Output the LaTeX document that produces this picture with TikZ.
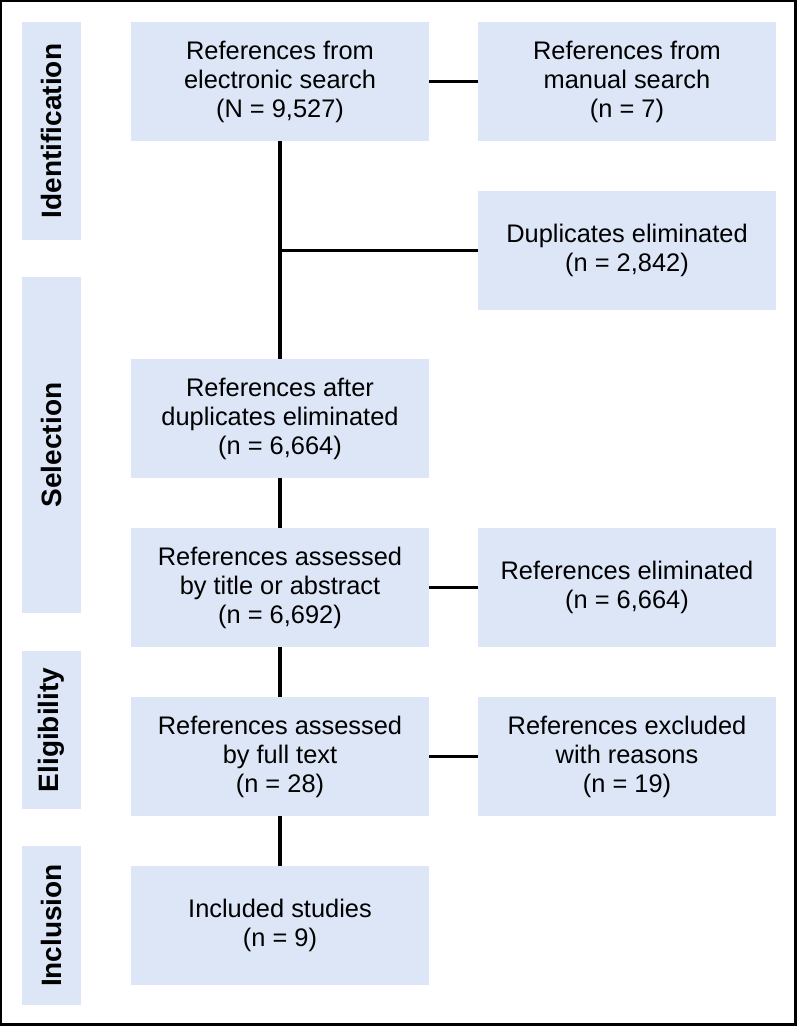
\documentclass[tikz,border=0pt]{standalone}
\usepackage{fontspec}
\setmainfont{Liberation Sans}
\usepackage{tikz}
\usetikzlibrary{positioning}
\definecolor{boxblue}{RGB}{220,230,247}
\tikzset{
  refbox/.style={fill=boxblue, minimum width=149pt, minimum height=59.5pt, inner sep=0pt, align=center, font=\fontsize{12.7}{14.5}\selectfont},
  phasebox/.style={fill=boxblue, minimum height=29.5pt, inner sep=0pt, rotate=90, font=\fontsize{14}{16}\selectfont\bfseries},
  link/.style={line width=1.6pt}
}

\begin{document}
\begin{tikzpicture}[x=0.5pt, y=-0.5pt]
\useasboundingbox (0,0) rectangle (798,1027);
\draw[line width=1.25pt] (1,1) rectangle (795.5,1024.5);
\node[phasebox, minimum width=109pt] (ident) at (51.5,131) {Identification};
\node[phasebox, minimum width=168pt] (select) at (51.5,445) {Selection};
\node[phasebox, minimum width=79pt] (elig) at (51.5,730) {Eligibility};
\node[phasebox, minimum width=79.5pt] (inclu) at (51.5,925.5) {Inclusion};
\node[refbox] (elec) at (280,81.5) {References from\\electronic search\\(N = 9,527)};
\node[refbox] (manual) at (627,81.5) {References from\\manual search\\(n = 7)};
\node[refbox] (dup) at (627,250.5) {Duplicates eliminated\\(n = 2,842)};
\node[refbox] (after) at (280,418.5) {References after\\duplicates eliminated\\(n = 6,664)};
\node[refbox] (title) at (280,587.5) {References assessed\\by title or abstract\\(n = 6,692)};
\node[refbox] (elim) at (627,587.5) {References eliminated\\(n = 6,664)};
\node[refbox] (full) at (280,756.5) {References assessed\\by full text\\(n = 28)};
\node[refbox] (excl) at (627,756.5) {References excluded\\with reasons\\(n = 19)};
\node[refbox] (incl) at (280,925.5) {Included studies\\(n = 9)};
\coordinate (branch) at (elec |- dup);
\draw[link] (elec) -- (manual);
\draw[link] (elec) -- (after);
\draw[link] (branch) -- (dup);
\draw[link] (after) -- (title);
\draw[link] (title) -- (elim);
\draw[link] (title) -- (full);
\draw[link] (full) -- (excl);
\draw[link] (full) -- (incl);
\end{tikzpicture}
\end{document}
